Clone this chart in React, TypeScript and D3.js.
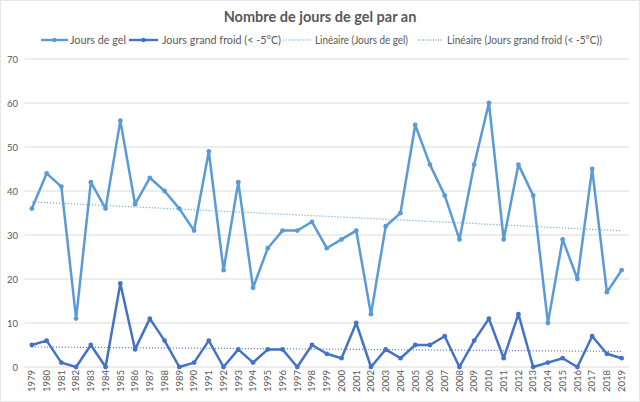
import React from "react";
import * as d3 from "d3";

const years: string[] = Array.from({ length: 41 }, (_, i) => String(1979 + i));
const joursGel: number[] = [36, 44, 41, 11, 42, 36, 56, 37, 43, 40, 36, 31, 49, 22, 42, 18, 27, 31, 31, 33, 27, 29, 31, 12, 32, 35, 55, 46, 39, 29, 46, 60, 29, 46, 39, 10, 29, 20, 45, 17, 22];
const grandFroid: number[] = [5, 6, 1, 0, 5, 0, 19, 4, 11, 6, 0, 1, 6, 0, 4, 1, 4, 4, 0, 5, 3, 2, 10, 0, 4, 2, 5, 5, 7, 0, 6, 11, 2, 12, 0, 1, 2, 0, 7, 3, 2];
const yTicks: number[] = [0, 10, 20, 30, 40, 50, 60, 70];
const title = "Nombre de jours de gel par an";
const legendLabels = ["Jours de gel", "Jours grand froid (< -5°C)", "Linéaire (Jours de gel)", "Linéaire (Jours grand froid (< -5°C))"];

const W = 640, H = 402;
const C1 = "#5B9BD5";
const C2 = "#4472C4";
const FONT = "Lato, 'Open Sans', sans-serif";

function linreg(vals: number[]) {
  const n = vals.length;
  const xs = vals.map((_, i) => i);
  const mx = d3.mean(xs)!, my = d3.mean(vals)!;
  let num = 0, den = 0;
  xs.forEach((x, i) => { num += (x - mx) * (vals[i] - my); den += (x - mx) ** 2; });
  const b = num / den;
  const a = my - b * mx;
  return [a, a + b * (n - 1)];
}

export default function App() {
  const x = d3.scaleBand<string>().domain(years).range([24.5, 629]);
  const y = d3.scaleLinear().domain([0, 70]).range([367, 59]);
  const cx = (yr: string) => x(yr)! + x.bandwidth() / 2;
  const line = d3.line<number>().x((_, i) => cx(years[i])).y((d) => y(d));
  const t1 = linreg(joursGel);
  const t2 = linreg(grandFroid);
  const first = cx(years[0]), last = cx(years[years.length - 1]);

  const legendItems = [
    { x: 41, w: 27, tx: 70, tw: 56, color: C1, dotted: false, label: legendLabels[0] },
    { x: 129, w: 29, tx: 162, tw: 119, color: C2, dotted: false, label: legendLabels[1] },
    { x: 283, w: 29, tx: 315, tw: 93, color: C1, dotted: true, label: legendLabels[2] },
    { x: 418, w: 25, tx: 447, tw: 155, color: C2, dotted: true, label: legendLabels[3] },
  ];

  return (
    <svg width={W} height={H} style={{ position: "absolute", left: 0, top: 0, background: "#fff" }} fontFamily={FONT}>
      <rect x={0.5} y={0.5} width={W - 1} height={H - 1} fill="#fff" stroke="#e6e6e6" />
      <text x={320} y={22} textAnchor="middle" fontSize={14.5} fontWeight="bold" fill="#595959">{title}</text>
      {legendItems.map((it, i) => (
        <g key={i}>
          <line x1={it.x} x2={it.x + it.w} y1={40} y2={40} stroke={it.color} strokeWidth={it.dotted ? 1 : 2.4} strokeDasharray={it.dotted ? "1,1.5" : undefined} />
          {!it.dotted && <circle cx={it.x + it.w / 2} cy={40} r={2.2} fill={it.color} />}
          <text x={it.tx} y={44} fontSize={11} fill="#595959" textLength={it.tw} lengthAdjust="spacingAndGlyphs">{it.label}</text>
        </g>
      ))}
      {yTicks.map((t) => (
        <g key={t}>
          <line x1={24.5} x2={629} y1={y(t)} y2={y(t)} stroke="#d9d9d9" strokeWidth={1} />
          <text x={18} y={y(t) + 3.5} textAnchor="end" fontSize={9.5} fill="#595959">{t}</text>
        </g>
      ))}
      {years.map((yr) => (
        <text key={yr} transform={`translate(${cx(yr) + 3.3},${370}) rotate(-90)`} textAnchor="end" fontSize={9.5} fill="#595959">{yr}</text>
      ))}
      <line x1={first} x2={last} y1={y(t1[0])} y2={y(t1[1])} stroke={C1} strokeWidth={1.2} strokeDasharray="1,2" />
      <line x1={first} x2={last} y1={y(t2[0])} y2={y(t2[1])} stroke={C2} strokeWidth={1.2} strokeDasharray="1,2" />
      <path d={line(joursGel)!} fill="none" stroke={C1} strokeWidth={2.5} strokeLinejoin="round" />
      {joursGel.map((v, i) => <circle key={i} cx={cx(years[i])} cy={y(v)} r={2.4} fill={C1} />)}
      <path d={line(grandFroid)!} fill="none" stroke={C2} strokeWidth={2.5} strokeLinejoin="round" />
      {grandFroid.map((v, i) => <circle key={i} cx={cx(years[i])} cy={y(v)} r={2.4} fill={C2} />)}
    </svg>
  );
}
